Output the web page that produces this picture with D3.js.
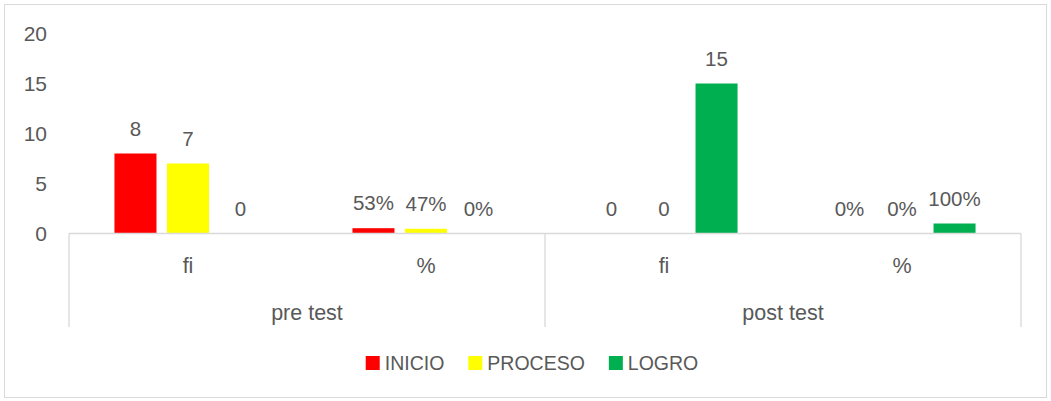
<!DOCTYPE html>
<html><head><meta charset="utf-8">
<script src="https://cdn.jsdelivr.net/npm/d3@7"></script>
<style>
html,body{margin:0;padding:0;background:#fff;}
text{font-family:"Liberation Sans",Arial,sans-serif;fill:#595959;}
</style></head>
<body><svg id="chart" width="1051" height="401"></svg>
<script>
const groups = ["pre test", "post test"];
const subCategories = ["fi", "%"];
const seriesNames = ["INICIO", "PROCESO", "LOGRO"];
const seriesColors = ["#FF0000", "#FFFF00", "#00B050"];
const inicio = [8, 0.53, 0, 0];
const proceso = [7, 0.47, 0, 0];
const logro = [0, 0, 15, 1];
const yTicks = [0, 5, 10, 15, 20];

const seriesValues = [inicio, proceso, logro];
const cats = [];
groups.forEach(g => subCategories.forEach(s => cats.push({group: g, sub: s, key: g + "|" + s})));

const svg = d3.select("#chart");
const W = 1051, H = 401;
const plotLeft = 69, plotRight = 1021, plotTop = 33.5, zeroY = 233.5;

svg.append("rect").attr("x", 4.5).attr("y", 4.5).attr("width", W - 9).attr("height", H - 8)
  .attr("fill", "#fff").attr("stroke", "#D9D9D9").attr("stroke-width", 1);

const x = d3.scaleBand().domain(cats.map(c => c.key)).range([plotLeft, plotRight])
  .paddingInner(0.382).paddingOuter(0.191);
const xs = d3.scaleBand().domain(seriesNames).range([0, x.bandwidth()]).paddingInner(0.2);
const y = d3.scaleLinear().domain([0, 20]).range([zeroY, plotTop]);

// y tick labels
svg.append("g").selectAll("text").data(yTicks).join("text")
  .attr("x", 47).attr("y", d => y(d)).attr("dy", "0.36em")
  .attr("text-anchor", "end").attr("font-size", 21).text(d => d);

// bars
const fmt = (v, c) => c.sub === "%" ? Math.round(v * 100) + "%" : String(v);
seriesNames.forEach((s, si) => {
  const g = svg.append("g");
  cats.forEach((c, ci) => {
    const v = seriesValues[si][ci];
    const bx = x(c.key) + xs(s);
    if (v > 0) {
      g.append("rect").attr("x", bx).attr("y", y(v)).attr("width", xs.bandwidth())
        .attr("height", y(0) - y(v)).attr("fill", seriesColors[si]);
    }
    g.append("text").attr("x", bx + xs.bandwidth() / 2).attr("y", y(v) - 18)
      .attr("text-anchor", "middle").attr("font-size", 20.5).text(fmt(v, c));
  });
});

// axis lines
const axisG = svg.append("g").attr("stroke", "#D9D9D9").attr("stroke-width", 1.3);
axisG.append("line").attr("x1", plotLeft).attr("x2", plotRight).attr("y1", zeroY).attr("y2", zeroY);
const groupBounds = [plotLeft, (plotLeft + plotRight) / 2, plotRight];
groupBounds.forEach(b => {
  axisG.append("line").attr("x1", b).attr("x2", b).attr("y1", zeroY).attr("y2", 327);
});

// category labels
svg.append("g").selectAll("text").data(cats).join("text")
  .attr("x", c => x(c.key) + x.bandwidth() / 2).attr("y", 272.5)
  .attr("text-anchor", "middle").attr("font-size", 21.5).text(c => c.sub);
svg.append("g").selectAll("text").data(groups).join("text")
  .attr("x", (g, i) => (groupBounds[i] + groupBounds[i + 1]) / 2).attr("y", 319.5)
  .attr("text-anchor", "middle").attr("font-size", 21.5).text(g => g);

// legend
const leg = svg.append("g");
let lx = 0;
seriesNames.forEach((s, i) => {
  const it = leg.append("g").attr("transform", `translate(${lx},0)`);
  it.append("rect").attr("x", 0).attr("y", 356).attr("width", 14).attr("height", 14).attr("fill", seriesColors[i]);
  const t = it.append("text").attr("x", 19).attr("y", 370).attr("font-size", 19.5).text(s);
  const w = 19 + t.node().getComputedTextLength();
  lx += w + 24;
});
const total = lx - 24;
leg.attr("transform", `translate(${532 - total / 2},0)`);
</script></body></html>
